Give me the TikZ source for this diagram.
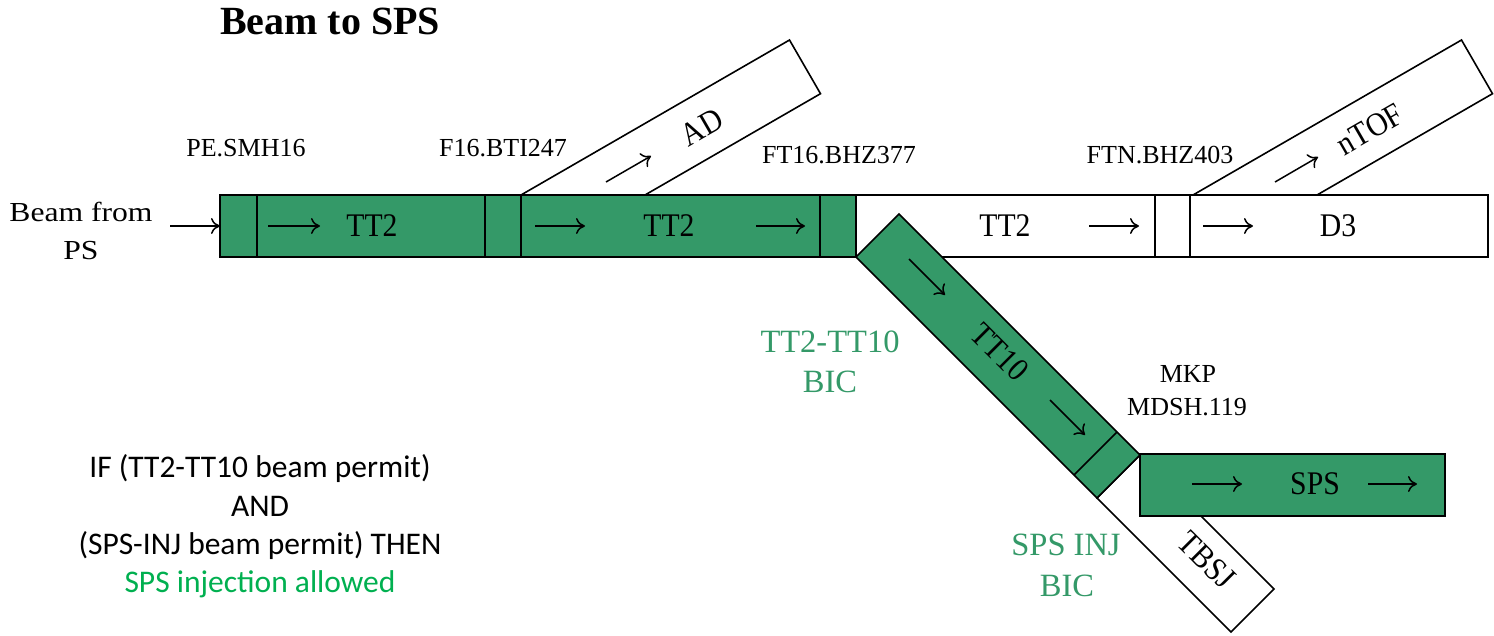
\documentclass[tikz,border=0pt]{standalone}
\usepackage{fontspec}
\setmainfont{Liberation Serif}
\newfontfamily\narrowserif[FakeStretch=0.9]{Liberation Serif}
\newfontfamily\wideserif[FakeStretch=1.15]{Liberation Serif}
\newfontfamily\calib{Carlito}
\usetikzlibrary{arrows.meta,calc}
\definecolor{boxgreen}{RGB}{52,153,104}
\definecolor{okgreen}{RGB}{0,176,80}
\newcommand\beamarrow[3]{\coordinate (#1s) at #2; \coordinate (#1e) at #3; \draw[flow] (#1s) -- (#1e);}
\begin{document}
\begin{tikzpicture}[x=1pt,y=-1pt,
 box/.style={draw=black,line width=1.6pt,line join=miter},
 gbox/.style={box,fill=boxgreen},
 wbox/.style={box,fill=white},
 rect/.style={rectangle,inner sep=0pt,outer sep=0pt,minimum height=62pt,anchor=north west},
 flow/.style={line width=1.5pt,-{Computer Modern Rightarrow[length=9pt,width=16pt]}},
 blabel/.style={font=\narrowserif\fontsize{33}{33}\selectfont,inner sep=0pt,text height=21.8pt,text depth=0pt},
 dlabel/.style={font=\fontsize{26}{26}\selectfont,inner sep=0pt,text height=17.2pt,text depth=0pt},
 glabel/.style={font=\fontsize{32.5}{32.5}\selectfont,text=boxgreen,inner sep=0pt,text height=21.5pt,text depth=0pt},
 clabel/.style={font=\calib\fontsize{31.5}{31.5}\selectfont,inner sep=0pt,text height=20.3pt,text depth=0pt},
 plabel/.style={font=\wideserif\fontsize{27.5}{27.5}\selectfont,inner sep=0pt,text height=18pt,text depth=0pt},
]
\useasboundingbox[fill=white] (0,0) rectangle (1494,635);

% title
\node[font=\bfseries\fontsize{40}{40}\selectfont,inner sep=0pt,text height=27pt,text depth=0pt] (title) at (330,21) {Beam to SPS};

% main line boxes
\node[rect,gbox,minimum width=37pt]  (g1) at (220,195) {};
\node[rect,gbox,minimum width=228pt] (g2) at (257,195) {};
\node[rect,gbox,minimum width=36pt]  (g3) at (485,195) {};
\node[rect,gbox,minimum width=299pt] (g4) at (521,195) {};
\node[rect,gbox,minimum width=36pt]  (g5) at (820,195) {};
\node[rect,wbox,minimum width=299pt] (w1) at (856,195) {};
\node[rect,wbox,minimum width=35pt]  (w2) at (1155,195) {};
\node[rect,wbox,minimum width=298pt] (w3) at (1190,195) {};

% AD and nTOF branches
\draw[wbox] (521,195) -- (789.5,40) -- (820.5,93.7) -- (645,195) -- cycle;
\draw[wbox] (1193,195) -- (1461.5,40) -- (1492.5,93.7) -- (1317,195) -- cycle;

% TBSJ (white) and TT10 (green)
\draw[wbox] (1097,498) -- (1231,632) -- (1274,589) -- (1140,455) -- cycle;
\draw[gbox] (856,257) -- (899,214) -- (1140,455) -- (1097,498) -- cycle;
\draw[box] (1074,475) -- (1117,432);

% SPS box
\node[rect,gbox,minimum width=305pt] (sps) at (1140,454) {};

% beam from PS
\node[plabel] (bf1) at (81,212) {Beam from};
\node[plabel] (bf2) at (81,250) {PS};
\coordinate (bin) at (170,226);
\draw[flow] (bin) -- (g1.west);

% device labels
\node[dlabel] (pe) at (246,148) {PE.SMH16};
\node[dlabel] (fbti) at (503,148) {F16.BTI247};
\node[dlabel] (fbhz) at (839,155) {FT16.BHZ377};
\node[dlabel] (ftn) at (1160,155) {FTN.BHZ403};
\node[dlabel] (mkp) at (1188,374) {MKP};
\node[dlabel] (mdsh) at (1187,407) {MDSH.119};

% line labels
\node[blabel] (l1) at (372,226) {TT2};
\node[blabel] (l2) at (669,226) {TT2};
\node[blabel] (l3) at (1005,226) {TT2};
\node[blabel] (l4) at (1338,226) {D3};
\node[blabel] (l5) at (1315,484) {SPS};
\node[blabel,rotate=30] (lad) at (702,127) {AD};
\node[blabel,rotate=30] (lntof) at (1370,129) {nTOF};
\node[blabel,rotate=-45] (ltt) at (1000,352) {TT10};
\node[blabel,rotate=-45] (ltbsj) at (1207,560) {TBSJ};

% beam direction arrows
\beamarrow{a1}{(268,226)}{(320,226)}
\beamarrow{a2}{(535,226)}{(585,226)}
\beamarrow{a3}{(756,226)}{(805,226)}
\beamarrow{a4}{(1089,226)}{(1139,226)}
\beamarrow{a5}{(1203,226)}{(1253,226)}
\beamarrow{a6}{(1192,484)}{(1242,484)}
\beamarrow{a7}{(1368,484)}{(1417,484)}
\beamarrow{a8}{(606,182)}{(651,156)}
\beamarrow{a9}{(1275,182)}{(1318,157)}
\beamarrow{a10}{(909,259)}{(945,295)}
\beamarrow{a11}{(1050,400)}{(1085,435)}

% BIC labels
\node[glabel] (bic1a) at (830,342) {TT2-TT10};
\node[glabel] (bic1b) at (830,382) {BIC};
\node[glabel] (bic2a) at (1066,545) {SPS INJ};
\node[glabel] (bic2b) at (1067,586) {BIC};

% condition text
\node[clabel] (c1) at (260,467) {IF (TT2-TT10 beam permit)};
\node[clabel] (c2) at (260,506) {AND};
\node[clabel] (c3) at (260,544) {(SPS-INJ beam permit) THEN};
\node[clabel,text=okgreen] (c4) at (260,582) {SPS injection allowed};
\end{tikzpicture}
\end{document}
